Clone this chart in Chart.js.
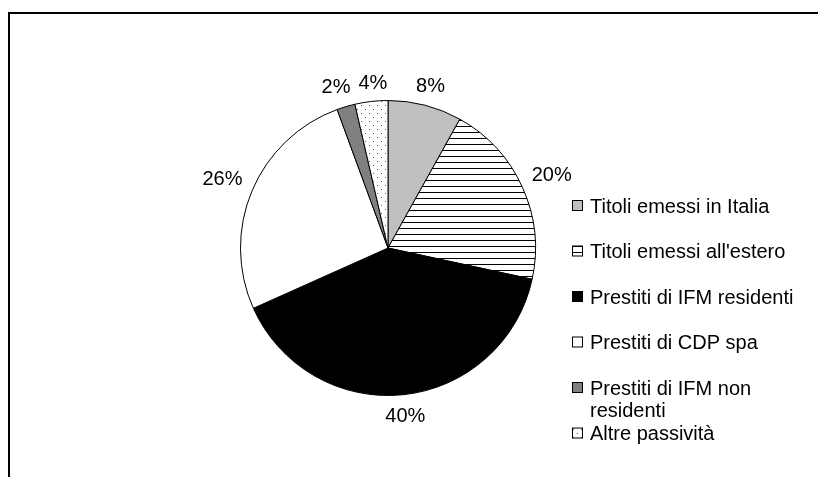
<!DOCTYPE html>
<html>
<head>
<meta charset="utf-8">
<script src="https://cdn.jsdelivr.net/npm/chart.js@4.4.0/dist/chart.umd.min.js"></script>
<style>
  html, body { margin: 0; padding: 0; background: #fff; }
  canvas { display: block; }
</style>
</head>
<body>
<canvas id="pie" width="818" height="477"></canvas>
<script>
// categorie e quote (%)
const categories = [
  'Titoli emessi in Italia',
  "Titoli emessi all'estero",
  'Prestiti di IFM residenti',
  'Prestiti di CDP spa',
  'Prestiti di IFM non residenti',
  'Altre passività'
];
const shares = [8.1, 20.3, 39.9, 26.1, 2.0, 3.6];
const fills = ['#c0c0c0', 'lines', '#000000', '#ffffff', '#808080', 'dots'];

const FONT = '20px "Liberation Sans", Arial, sans-serif';

function makePattern(kind) {
  const c = document.createElement('canvas');
  const g = c.getContext('2d');
  if (kind === 'lines') {
    c.width = 6; c.height = 6;
    g.fillStyle = '#fff'; g.fillRect(0, 0, 6, 6);
    g.fillStyle = '#000'; g.fillRect(0, 0, 6, 1);
  } else {
    c.width = 8; c.height = 8;
    g.fillStyle = '#fff'; g.fillRect(0, 0, 8, 8);
    g.fillStyle = '#555';
    g.fillRect(1, 1, 1, 1); g.fillRect(5, 5, 1, 1);
  }
  return g.createPattern(c, 'repeat');
}
const ctx0 = document.getElementById('pie').getContext('2d');
const colors = fills.map(f => (f === 'lines' || f === 'dots') ? makePattern(f) : f);

// cornice: solo lato superiore e sinistro
const framePlugin = {
  id: 'frame',
  beforeDraw(chart) {
    const c = chart.ctx;
    c.save();
    c.strokeStyle = '#000';
    c.lineWidth = 2;
    c.beginPath();
    c.moveTo(chart.width, 13);
    c.lineTo(9, 13);
    c.lineTo(9, chart.height);
    c.stroke();
    c.restore();
  }
};

// etichette percentuali fuori dalle fette
const pctPlugin = {
  id: 'pct',
  afterDatasetsDraw(chart) {
    const c = chart.ctx;
    const meta = chart.getDatasetMeta(0);
    const data = chart.data.datasets[0].data;
    const total = data.reduce((a, b) => a + b, 0);
    c.save();
    c.font = FONT;
    c.fillStyle = '#000';
    c.textAlign = 'center';
    c.textBaseline = 'alphabetic';
    const items = meta.data.map((arc, i) => {
      const p = arc.getProps(['x', 'y', 'startAngle', 'endAngle', 'outerRadius'], true);
      const mid = (p.startAngle + p.endAngle) / 2;
      const txt = Math.round(data[i] / total * 100) + '%';
      const w = c.measureText(txt).width;
      const cs = Math.cos(mid), sn = Math.sin(mid);
      const d = p.outerRadius + 11 + Math.abs(cs) * w / 2 + Math.abs(sn) * 7;
      return { txt, w, x: p.x + cs * d, y: p.y + sn * d };
    });
    // separa le etichette che si sovrappongono
    for (let i = 1; i < items.length; i++) {
      const a = items[i - 1], b = items[i];
      if (Math.abs(a.y - b.y) < 16) {
        const need = a.w / 2 + b.w / 2 + 8 - Math.abs(b.x - a.x);
        if (need > 0) {
          const s = b.x >= a.x ? 1 : -1;
          a.x -= s * need / 2;
          b.x += s * need / 2;
        }
      }
    }
    items.forEach(it => c.fillText(it.txt, it.x, it.y + 7.2));
    c.restore();
  }
};

function wrap(c, text, maxW) {
  const words = text.split(' ');
  const lines = [];
  let cur = '';
  words.forEach(w => {
    const t = cur ? cur + ' ' + w : w;
    if (c.measureText(t).width > maxW && cur) { lines.push(cur); cur = w; }
    else cur = t;
  });
  lines.push(cur);
  return lines;
}

// legenda a destra
const legendPlugin = {
  id: 'sideLegend',
  afterDraw(chart) {
    const c = chart.ctx;
    const bg = chart.data.datasets[0].backgroundColor;
    c.save();
    c.font = FONT;
    c.textBaseline = 'alphabetic';
    chart.data.labels.forEach((lab, i) => {
      const y = 205.5 + i * 45.5;
      c.fillStyle = bg[i];
      c.fillRect(572, y - 5.5, 11, 11);
      c.strokeStyle = '#000';
      c.lineWidth = 1;
      c.strokeRect(572.5, y - 5, 10, 10);
      c.fillStyle = '#000';
      wrap(c, lab, 215).forEach((ln, k) => {
        c.fillText(ln, 590, y + 7.2 + k * 22);
      });
    });
    c.restore();
  }
};

new Chart(ctx0, {
  type: 'pie',
  data: {
    labels: categories,
    datasets: [{
      data: shares,
      backgroundColor: colors,
      borderColor: '#000',
      borderWidth: 1
    }]
  },
  options: {
    responsive: false,
    animation: false,
    devicePixelRatio: 1,
    layout: { padding: { left: 240, right: 282, top: 100, bottom: 81 } },
    plugins: {
      legend: { display: false },
      tooltip: { enabled: false }
    }
  },
  plugins: [framePlugin, pctPlugin, legendPlugin]
});
</script>
</body>
</html>
